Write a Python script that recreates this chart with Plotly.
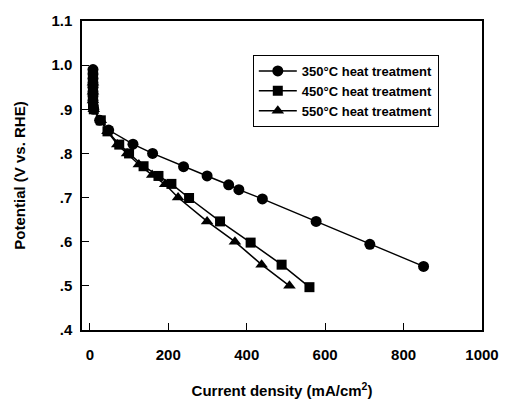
import plotly.graph_objects as go

x350 = [8, 8, 8, 8, 8, 8, 8, 8, 10, 25, 48, 110, 160, 239, 299, 354, 380, 440, 577, 714, 851]
y350 = [0.99, 0.98, 0.97, 0.96, 0.95, 0.94, 0.93, 0.92, 0.90, 0.875, 0.853, 0.821, 0.80, 0.77, 0.749, 0.729, 0.718, 0.697, 0.646, 0.594, 0.544]
x450 = [8, 8, 8, 8, 10, 28, 45, 75, 100, 137, 175, 208, 253, 332, 410, 489, 560]
y450 = [0.97, 0.95, 0.93, 0.91, 0.90, 0.875, 0.85, 0.82, 0.80, 0.771, 0.749, 0.731, 0.699, 0.646, 0.598, 0.548, 0.497]
x550 = [8, 8, 8, 10, 28, 45, 70, 95, 125, 159, 192, 225, 299, 370, 438, 509]
y550 = [0.96, 0.94, 0.92, 0.90, 0.875, 0.85, 0.82, 0.80, 0.775, 0.751, 0.73, 0.70, 0.646, 0.60, 0.548, 0.50]

names = ["350°C heat treatment", "450°C heat treatment", "550°C heat treatment"]
yticks = [0.4, 0.5, 0.6, 0.7, 0.8, 0.9, 1.0, 1.1]
ytext = [".4", ".5", ".6", ".7", ".8", ".9", "1.0", "1.1"]
xticks = [0, 200, 400, 600, 800, 1000]

fig = go.Figure()
for xs, ys, nm, sym, sz in [(x350, y350, names[0], "circle", 11),
                            (x450, y450, names[1], "square", 10),
                            (x550, y550, names[2], "triangle-up", 11)]:
    fig.add_trace(go.Scatter(x=xs, y=ys, name=nm, mode="lines+markers",
                             line=dict(color="black", width=1.5),
                             marker=dict(symbol=sym, size=sz, color="black")))

font = "Liberation Sans, Arial, sans-serif"
fig.update_layout(
    width=511, height=409,
    margin=dict(l=82, r=26, t=14, b=74),
    paper_bgcolor="white", plot_bgcolor="white",
    font=dict(family=font, color="black"),
    showlegend=True,
    legend=dict(x=0.427, y=0.89, xanchor="left", yanchor="top",
                bordercolor="black", borderwidth=1, bgcolor="white",
                font=dict(size=13, family=font, weight="bold"), tracegroupgap=0,
                itemwidth=38),
    xaxis=dict(range=[-20, 1000], tickvals=xticks, ticks="inside", ticklen=7,
               tickcolor="black", showline=True, linecolor="black", linewidth=1.5,
               mirror=True, showgrid=False, zeroline=False, ticklabelstandoff=10,
               tickfont=dict(size=15, family=font, weight="bold"),
               title=dict(text="Current density (mA/cm<sup>2</sup>)",
                          font=dict(size=15, weight="bold"), standoff=24)),
    yaxis=dict(range=[0.4, 1.1], tickvals=yticks, ticktext=ytext, ticks="inside", ticklen=7,
               tickcolor="black", showline=True, linecolor="black", linewidth=1.5,
               mirror=True, showgrid=False, zeroline=False, ticklabelstandoff=5,
               tickfont=dict(size=15, family=font, weight="bold"),
               title=dict(text="Potential (V vs. RHE)",
                          font=dict(size=15, weight="bold"), standoff=22)),
)
fig.write_html("out.html", config={"displayModeBar": False},
               post_script="document.body.style.margin='0px';")
